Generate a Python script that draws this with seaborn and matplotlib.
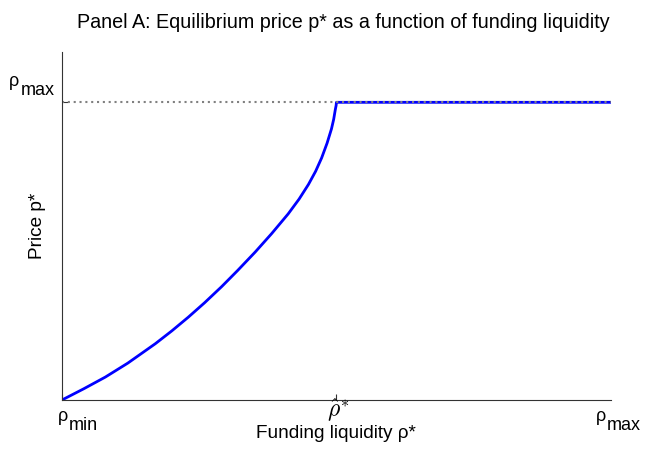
import numpy as np
import pandas as pd
import matplotlib
matplotlib.use('Agg')
import matplotlib.pyplot as plt
import seaborn as sns

sns.set_style('white')
plt.rcParams['font.family'] = ['Liberation Sans', 'DejaVu Sans']
plt.rcParams['mathtext.fontset'] = 'cm'
plt.rcParams['text.color'] = 'black'
plt.rcParams['axes.labelcolor'] = 'black'

# funding liquidity (normalised: rho_min = 0, rho_max = 1) and equilibrium price (p_max = 1)
rho = [0.0, 0.04, 0.079, 0.12, 0.17, 0.2, 0.23, 0.26, 0.291, 0.32, 0.352,
       0.382, 0.412, 0.432, 0.449, 0.462, 0.473, 0.483, 0.491, 0.495, 0.498,
       0.4995, 0.5, 1.0]
price = [0.0, 0.038, 0.077, 0.124, 0.189, 0.232, 0.278, 0.327, 0.381, 0.435,
         0.497, 0.559, 0.625, 0.675, 0.724, 0.768, 0.813, 0.863, 0.911, 0.943,
         0.976, 0.99, 1.0, 1.0]
rho_hat = 0.5
p_max = 1.0

df = pd.DataFrame({'rho': rho, 'price': price})

fig = plt.figure(figsize=(6.45, 4.51), dpi=100)
ax = fig.add_axes([0.0961, 0.1131, 0.851, 0.7716])

sns.lineplot(data=df, x='rho', y='price', sort=False, estimator=None,
             color='#0000ff', linewidth=2.0, ax=ax)
ax.plot([0, 1], [p_max, p_max], linestyle=(0, (1.0, 1.8)), color='#808080', linewidth=1.5)

ax.set_xlim(0, 1)
ax.set_ylim(0, 1.169)
ax.set_xticks([0, rho_hat])
ax.set_xticklabels([])
ax.set_yticks([p_max])
ax.set_yticklabels([])
ax.tick_params(direction='in', length=4.5, width=0.8, color='#333333',
               bottom=True, left=True)

for s in ['top', 'right']:
    ax.spines[s].set_visible(False)
for s in ['left', 'bottom']:
    ax.spines[s].set_color('#333333')
    ax.spines[s].set_linewidth(0.8)

# MATLAB style tick labels: subscripts keep the full font size
tick_fs = 13


def sub_label(base, sub, xy, coords, base_off, sub_off):
    ax.annotate(base, xy=xy, xycoords=coords, xytext=base_off,
                textcoords='offset pixels', ha='left', va='baseline', fontsize=tick_fs)
    ax.annotate(sub, xy=xy, xycoords=coords, xytext=sub_off,
                textcoords='offset pixels', ha='left', va='baseline', fontsize=tick_fs)


xcoords = ('data', 'axes fraction')
ycoords = ('axes fraction', 'data')
sub_label('ρ', 'min', (0.0, 0), xcoords, (-4, -21.5), (7, -30))
sub_label('ρ', 'max', (1.0, 0), xcoords, (-15.5, -21.5), (-4.5, -30))
sub_label('ρ', 'max', (0, p_max), ycoords, (-53, 16), (-41.5, 7))
ax.annotate(r'$\hat{\rho}^{*}$', xy=(rho_hat, 0), xycoords=xcoords, xytext=(1.5, -17.5),
            textcoords='offset pixels', ha='center', va='baseline', fontsize=17)

# x label placed by hand (below the two-line tick labels)
ax.set_xlabel('')
ax.annotate('Funding liquidity ρ*', xy=(0.5, 0), xycoords='axes fraction',
            xytext=(0, -38), textcoords='offset pixels', ha='center', va='baseline',
            fontsize=13.7)
ax.set_ylabel('Price p*', fontsize=13.7)
ax.yaxis.set_label_coords(-0.029, 0.5)
fig.text(343 / 645, 1 - 27.5 / 451,
         'Panel A: Equilibrium price p* as a function of funding liquidity',
         ha='center', va='baseline', fontsize=14.2)

fig.savefig('out.png', dpi=100)
